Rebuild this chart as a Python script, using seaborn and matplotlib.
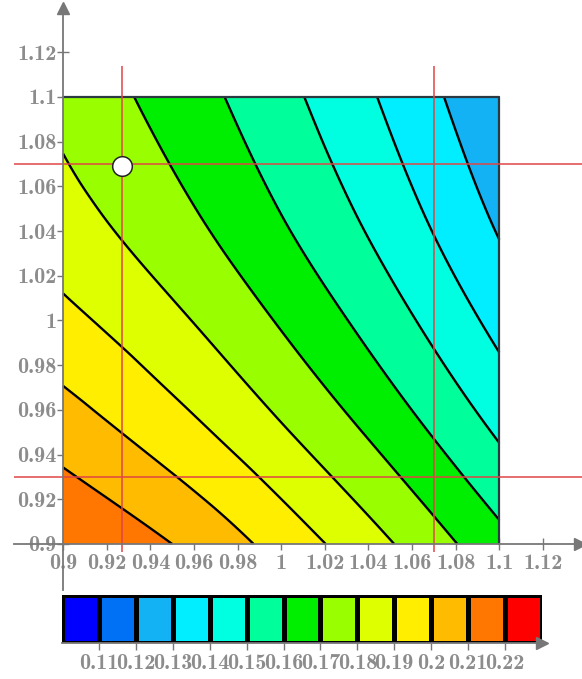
import numpy as np
import matplotlib
matplotlib.use("Agg")
import matplotlib.pyplot as plt
import matplotlib.tri as mtri
from matplotlib.colors import ListedColormap, BoundaryNorm
import seaborn as sns

# values (grid of the filled contour)
x_vals = [0.90, 0.95, 1.00, 1.05, 1.10]
y_vals = [0.90, 0.95, 1.00, 1.05, 1.10]
z_y090 = [0.2195, 0.2100, 0.1962, 0.1806, 0.1632]
z_y095 = [0.2056, 0.1946, 0.1812, 0.1659, 0.1487]
z_y100 = [0.1927, 0.1821, 0.1690, 0.1539, 0.1369]
z_y105 = [0.1832, 0.1726, 0.1596, 0.1447, 0.1278]
z_y110 = [0.1772, 0.1660, 0.1530, 0.1381, 0.1215]

levels = [0.10, 0.11, 0.12, 0.13, 0.14, 0.15, 0.16, 0.17, 0.18, 0.19, 0.20, 0.21, 0.22, 0.23]
level_colors = ['#0000FF', '#0070F5', '#12B2F5', '#00EEFF', '#00FFE0', '#00FF9A', '#00EE00',
                '#99FF00', '#DDFF00', '#FFEE00', '#FFBB00', '#FF7700', '#FF0000']
cbar_labels = ['0.11', '0.12', '0.13', '0.14', '0.15', '0.16', '0.17', '0.18', '0.19', '0.2', '0.21', '0.22']

x_ticks = [0.9, 0.92, 0.94, 0.96, 0.98, 1.0, 1.02, 1.04, 1.06, 1.08, 1.1, 1.12]
tick_labels = ['0.9', '0.92', '0.94', '0.96', '0.98', '1', '1.02', '1.04', '1.06', '1.08', '1.1', '1.12']

point_x, point_y = 0.927, 1.069
red_x = [0.927, 1.07]
red_y = [0.93, 1.07]

sns.set_theme(style='white')
plt.rcParams['font.family'] = ['cmb10', 'DejaVu Serif']
plt.rcParams['axes.formatter.use_mathtext'] = True

grey = '#777777'
label_grey = '#8c8c8c'
fs = 16
W, H = 582, 679
fig = plt.figure(figsize=(W / 100, H / 100), dpi=100)

ax = fig.add_axes([14 / W, 1 - 590 / H, 566 / W, 582 / H])
Z = np.array([z_y090, z_y095, z_y100, z_y105, z_y110])
X, Y = np.meshgrid(x_vals, y_vals)
cmap = ListedColormap(level_colors)
norm = BoundaryNorm(levels, cmap.N)

# smooth the coarse grid with matplotlib's cubic tri refiner
tri = mtri.Triangulation(X.ravel(), Y.ravel())
tri_f, z_f = mtri.UniformTriRefiner(tri).refine_field(Z.ravel(), subdiv=4)
ax.tricontourf(tri_f, z_f, levels=levels, cmap=cmap, norm=norm)
ax.tricontour(tri_f, z_f, levels=levels, colors='black', linewidths=1.7)
ax.plot([0.9, 1.1, 1.1], [1.1, 1.1, 0.9], color='#2a3a40', lw=1.6)

ax.set_xlim(0.8775, 1.137)
ax.set_ylim(0.8794, 1.1398)

# red guide lines
ax.vlines(red_x, 0.8964, 1.114, color='#e04545', lw=1.1)
ax.hlines(red_y, 0.8775, 1.14, color='#e04545', lw=1.1, clip_on=False)

sns.scatterplot(x=[point_x], y=[point_y], ax=ax, s=200, color='white',
                edgecolor='#222222', linewidth=1.1, zorder=5, legend=False)

for s in ['top', 'right']:
    ax.spines[s].set_visible(False)
ax.spines['left'].set_position(('data', 0.9))
ax.spines['bottom'].set_position(('data', 0.9))
for s in ['left', 'bottom']:
    ax.spines[s].set_color(grey)
    ax.spines[s].set_linewidth(1.3)
ax.plot(1, 0.9, marker='>', color=grey, ms=9, transform=ax.get_yaxis_transform(), clip_on=False)
ax.plot(0.9, 1, marker='^', color=grey, ms=9, transform=ax.get_xaxis_transform(), clip_on=False)

ax.set_xticks(x_ticks, tick_labels)
ax.set_yticks(x_ticks, tick_labels)
ax.tick_params(direction='inout', length=9, width=1, color=grey, labelcolor=label_grey,
               labelsize=fs, bottom=True, left=True)
ax.tick_params(axis='x', pad=3)
ax.tick_params(axis='y', pad=0)
ax.set_xlabel('')
ax.set_ylabel('')

# colour key
cax = fig.add_axes([62 / W, 1 - 643 / H, 480 / W, 48 / H])
mids = np.array([[(levels[i] + levels[i + 1]) / 2 for i in range(len(level_colors))]])
sns.heatmap(mids, ax=cax, cmap=cmap, norm=norm, cbar=False, linewidths=2.5,
            linecolor='black', xticklabels=False, yticklabels=False)
cax.set_xticks(np.arange(1, len(level_colors)), cbar_labels)
cax.spines['bottom'].set_visible(True)
cax.spines['bottom'].set_color(grey)
cax.spines['bottom'].set_linewidth(1.3)
cax.plot(1, 0, marker='>', color=grey, ms=9, transform=cax.transAxes, clip_on=False)
cax.tick_params(axis='x', direction='out', length=5, width=1, color=grey, bottom=True,
                labelcolor=label_grey, labelsize=fs, pad=3)

fig.savefig('out.png', dpi=100)
